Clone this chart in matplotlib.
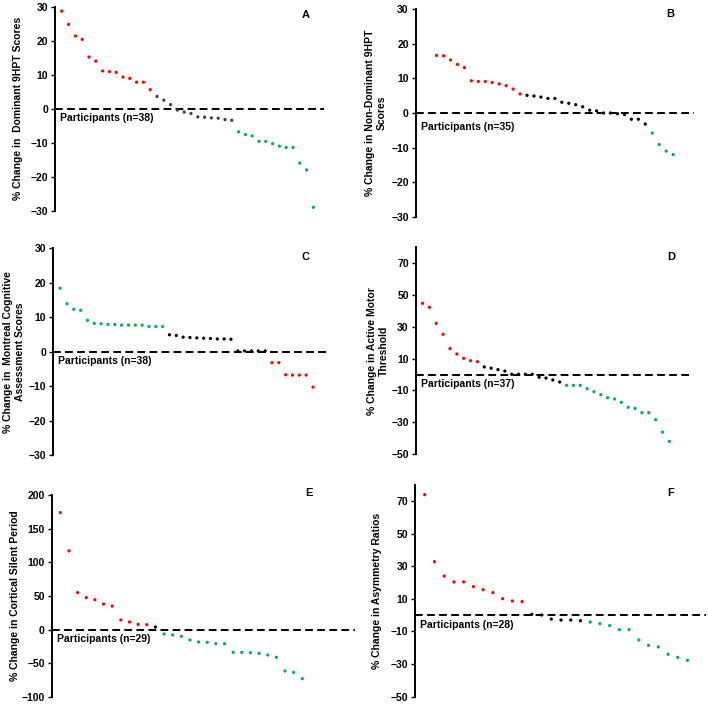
import matplotlib
matplotlib.use("Agg")
import matplotlib.pyplot as plt

plt.rcParams["font.family"] = ["Liberation Sans", "DejaVu Sans"]
plt.rcParams["font.weight"] = "bold"

RED = "#ff0000"
GREEN = "#00b050"
BLACK = "#000000"
GREY = "#404040"

# values, sorted as in the source figure
dominant_9hpt = [28.7, 24.8, 21.4, 20.4, 15.2, 14.0, 11.1, 10.9, 10.7, 9.3, 8.9, 7.8, 7.8, 5.6,
                 3.6, 2.5, 1.2, -0.4, -1.0, -1.4, -2.4, -2.5, -2.7, -2.8, -3.2, -3.4,
                 -6.8, -7.6, -8.0, -9.6, -9.6, -10.3, -11.0, -11.4, -11.4, -16.0, -18.0, -29.0]
dominant_groups = [(14, RED), (12, GREY), (12, GREEN)]

nondominant_9hpt = [16.6, 16.5, 15.3, 14.0, 13.1, 9.3, 9.1, 9.1, 8.8, 8.4, 7.9, 6.9, 5.5,
                    5.1, 4.9, 4.6, 4.2, 4.2, 3.1, 2.8, 2.4, 1.8, 0.8, 0.6, 0.0, 0.0, -0.2, -0.4,
                    -1.8, -1.8, -3.2,
                    -5.8, -9.1, -11.0, -12.0]
nondominant_groups = [(13, RED), (18, BLACK), (4, GREEN)]

moca = [18.4, 13.9, 12.3, 12.0, 9.1, 8.2, 8.1, 7.9, 7.9, 7.7, 7.7, 7.7, 7.7, 7.3, 7.3, 7.3,
        4.9, 4.7, 4.2, 4.1, 4.0, 3.9, 3.8, 3.7, 3.7, 3.6, 0.2, 0.2, 0.2, 0.2, 0.2,
        -3.2, -3.2, -6.7, -6.8, -6.8, -6.8, -10.3]
moca_groups = [(16, GREEN), (15, BLACK), (7, RED)]

amt = [44.8, 42.3, 32.2, 25.3, 16.3, 12.9, 10.2, 8.7, 8.1,
       4.8, 4.0, 3.1, 2.2, 0.2, 0.2, 0.2, 0.2, -1.7, -2.2, -3.4, -4.7,
       -6.8, -6.8, -6.8, -8.9, -10.8, -12.7, -14.6, -15.4, -17.5, -20.6, -21.3,
       -24.0, -24.0, -28.4, -36.2, -42.1]
amt_groups = [(9, RED), (12, BLACK), (16, GREEN)]

csp = [173.8, 117.0, 55.0, 47.5, 44.5, 38.0, 35.0, 14.4, 11.4, 7.9, 7.4,
       4.0,
       -6.4, -7.9, -9.9, -15.3, -18.3, -18.8, -20.8, -20.8, -33.7, -33.7, -34.2,
       -35.1, -37.6, -41.1, -61.4, -63.4, -72.8]
csp_groups = [(11, RED), (1, BLACK), (17, GREEN)]

asym = [73.9, 32.8, 24.0, 20.4, 20.4, 17.5, 15.6, 13.8, 10.1, 8.7, 8.3,
        0.5, 0.1, -2.4, -3.0, -3.0, -3.4,
        -4.2, -5.2, -6.4, -8.9, -8.9, -15.2, -18.5, -19.5, -24.0, -25.9, -27.7]
asym_groups = [(11, RED), (6, BLACK), (11, GREEN)]

W, H = 708, 704

panels = [
    # box = axes in pixels (left, right, top, bottom); lab_x / let_xy also in pixels
    dict(vals=dominant_9hpt, groups=dominant_groups, x0=1, xmax=39.5, ylim=(-30, 30),
         yticks=range(-30, 31, 10), ylabel="% Change in  Dominant 9HPT Scores",
         letter="A", n=38, box=(55, 323.6, 6.7, 210.7), lab_x=18, let_xy=(306, 15), ndy=-7),
    dict(vals=nondominant_9hpt, groups=nondominant_groups, x0=3, xmax=40, ylim=(-30, 30),
         yticks=range(-30, 31, 10), ylabel="% Change in Non-Dominant 9HPT\nScores",
         letter="B", n=35, box=(415.7, 694, 9, 217), lab_x=376, let_xy=(670, 14), ndy=-10),
    dict(vals=moca, groups=moca_groups, x0=1, xmax=40.2, ylim=(-30, 30),
         yticks=range(-30, 31, 10), ylabel="% Change in  Montreal Cognitive\nAssessment Scores",
         letter="C", n=38, box=(53.3, 328, 248.3, 455), lab_x=14, let_xy=(306, 257), ndy=-7),
    dict(vals=amt, groups=amt_groups, x0=1, xmax=40.3, ylim=(-50, 80),
         yticks=range(-50, 71, 20), ylabel="% Change in Active Motor\nThreshold",
         letter="D", n=37, box=(415.7, 692, 247.4, 454), lab_x=378, let_xy=(671, 257), ndy=-7),
    dict(vals=csp, groups=csp_groups, x0=1, xmax=35.1, ylim=(-100, 200),
         yticks=range(-100, 201, 50), ylabel="% Change in Cortical Silent Period",
         letter="E", n=29, box=(51.7, 355, 495, 697), lab_x=15, let_xy=(309, 493), ndy=-7),
    dict(vals=asym, groups=asym_groups, x0=1, xmax=29.9, ylim=(-50, 80),
         yticks=range(-50, 71, 20), ylabel="% Change in Asymmetry Ratios",
         letter="F", n=28, box=(415, 706, 484.7, 696.7), lab_x=377, let_xy=(671, 493), ndy=-7),
]

fig = plt.figure(figsize=(W / 100, H / 100), dpi=100)

for p in panels:
    left, right, top, bottom = p["box"]
    ax = fig.add_axes([left / W, 1 - bottom / H, (right - left) / W, (bottom - top) / H])

    xs = list(range(p["x0"], p["x0"] + len(p["vals"])))
    colors = []
    for count, color in p["groups"]:
        colors += [color] * count
    ax.scatter(xs, p["vals"], s=5.5, c=colors, linewidths=0, zorder=3)

    ax.axhline(0, color="black", lw=1.4, dashes=(4, 2.2), zorder=2)

    ax.set_xlim(0, p["xmax"])
    ax.set_ylim(*p["ylim"])
    ax.set_yticks(list(p["yticks"]))
    ax.set_xticks([])
    for side in ("top", "right", "bottom"):
        ax.spines[side].set_visible(False)
    ax.spines["left"].set_linewidth(1.4)
    ax.tick_params(axis="y", length=3, width=1, labelsize=7.5, pad=2)
    for lbl in ax.get_yticklabels():
        lbl.set_fontweight("bold")

    ax.set_ylabel(p["ylabel"], fontsize=7.5, fontweight="bold", va="center",
                  multialignment="center")
    ax.yaxis.set_label_coords((p["lab_x"] - left) / (right - left), 0.5)

    ax.annotate(f"Participants (n={p['n']})", xy=(0, 0), xycoords=("axes fraction", "data"),
                xytext=(3.6, p["ndy"]), textcoords="offset points",
                ha="left", va="center", fontsize=7.5, fontweight="bold")

    lx, ly = p["let_xy"]
    fig.text(lx / W, 1 - ly / H, p["letter"], ha="center", va="center",
             fontsize=8, fontweight="bold")

fig.savefig("out.png", dpi=100)
